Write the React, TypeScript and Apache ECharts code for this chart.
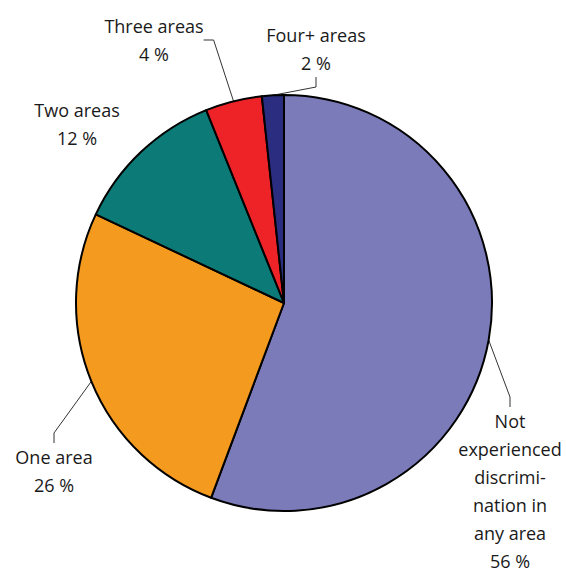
import React, { useEffect, useRef } from "react";
import * as echarts from "echarts";

const categories = [
  "Not\nexperienced\ndiscrimi-\nnation in\nany area",
  "One area",
  "Two areas",
  "Three areas",
  "Four+ areas",
];
const values = [55.7, 26.3, 11.9, 4.4, 1.7];
const colors = ["#7b7bba", "#f39a1f", "#0c7b78", "#ee2327", "#2b2e80"];
const labelPos = [
  { x: 510, y: 491 },
  { x: 54, y: 471 },
  { x: 77, y: 124 },
  { x: 154, y: 40 },
  { x: 316, y: 49 },
];

export default function App() {
  const ref = useRef<HTMLDivElement>(null);
  useEffect(() => {
    const chart = echarts.init(ref.current!, null, { renderer: "svg" });
    chart.setOption({
      animation: false,
      series: [
        {
          type: "pie",
          center: [284, 303],
          radius: 208,
          startAngle: 90,
          clockwise: true,
          itemStyle: { borderColor: "#000", borderWidth: 2 },
          label: {
            show: true,
            position: "outside",
            alignTo: "none",
            overflow: "none",
            fontFamily: "Open Sans",
            fontSize: 18,
            lineHeight: 28,
            color: "#1a1a1a",
            align: "center",
            formatter: (p: any) => `${p.name}\n${Math.round(p.value)} %`,
          },
          labelLine: {
            show: true,
            lineStyle: { color: "#333", width: 1 },
            length: 20,
            length2: 10,
          },
          labelLayout: (p: any) => ({
            x: labelPos[p.dataIndex].x,
            y: labelPos[p.dataIndex].y,
            align: "center",
            verticalAlign: "middle",
          }),
          data: values.map((v, i) => ({
            name: categories[i],
            value: v,
            itemStyle: { color: colors[i] },
            labelLine: { show: i !== 2 },
          })),
        },
      ],
    });
    return () => chart.dispose();
  }, []);
  return (
    <div
      ref={ref}
      style={{ position: "absolute", left: 0, top: 0, width: 566, height: 572 }}
    />
  );
}
